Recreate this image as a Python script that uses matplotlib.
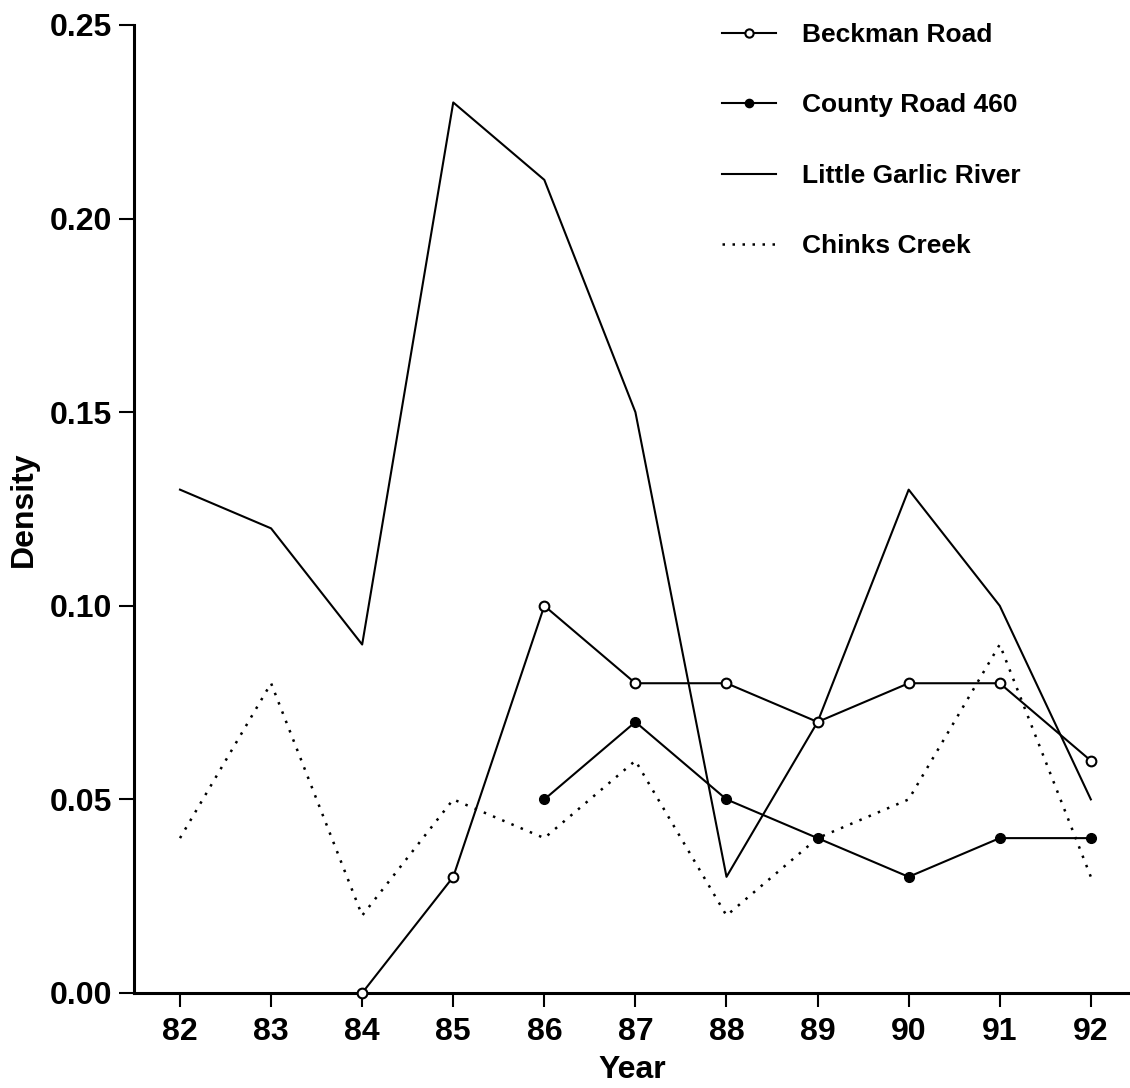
import matplotlib
matplotlib.use('Agg')
import matplotlib.pyplot as plt

years = [82, 83, 84, 85, 86, 87, 88, 89, 90, 91, 92]

beckman_years = [84, 85, 86, 87, 88, 89, 90, 91, 92]
beckman = [0.00, 0.03, 0.10, 0.08, 0.08, 0.07, 0.08, 0.08, 0.06]

county_years = [86, 87, 88, 89, 90, 91, 92]
county = [0.05, 0.07, 0.05, 0.04, 0.03, 0.04, 0.04]

garlic = [0.13, 0.12, 0.09, 0.23, 0.21, 0.15, 0.03, 0.07, 0.13, 0.10, 0.05]
chinks = [0.04, 0.08, 0.02, 0.05, 0.04, 0.06, 0.02, 0.04, 0.05, 0.09, 0.03]

yticks = [0.00, 0.05, 0.10, 0.15, 0.20, 0.25]

plt.rcParams['font.family'] = ['Liberation Sans', 'DejaVu Sans']
plt.rcParams['font.weight'] = 'bold'

fig = plt.figure(figsize=(11.3, 10.88), dpi=100)
# axes box: left spine at x=134px, bottom at y=993px, top (0.25) at y=25px
ax = fig.add_axes([134 / 1130, 95 / 1088, 996 / 1130, 968 / 1088])

lw = 1.5
ax.plot(beckman_years, beckman, color='black', lw=lw, marker='o', ms=7,
        mfc='white', mec='black', mew=1.5, label='Beckman Road', clip_on=False, zorder=4)
ax.plot(county_years, county, color='black', lw=lw, marker='o', ms=7,
        mfc='black', mec='black', label='County Road 460', zorder=4)
ax.plot(years, garlic, color='black', lw=lw, label='Little Garlic River', zorder=3)
ax.plot(years, chinks, color='black', lw=1.8, linestyle=(0, (1, 3)),
        label='Chinks Creek', zorder=3)

ax.set_xlim(81.495, 92.43)
ax.set_ylim(0, 0.25)
ax.set_xticks(years)
ax.set_xticklabels([str(y) for y in years])
ax.set_yticks(yticks)
ax.set_yticklabels([f"{v:.2f}" for v in yticks])

for s in ['top', 'right']:
    ax.spines[s].set_visible(False)
for s in ['left', 'bottom']:
    ax.spines[s].set_linewidth(2.2)

ax.tick_params(axis='x', direction='out', length=10, width=1.5, labelsize=23, pad=7)
ax.tick_params(axis='y', direction='out', length=10.5, width=1.5, labelsize=23, pad=5)
for lab in ax.get_xticklabels() + ax.get_yticklabels():
    lab.set_fontweight('bold')

ax.set_xlabel('Year', fontsize=23, fontweight='bold', labelpad=6)
ax.set_ylabel('Density', fontsize=23, fontweight='bold', labelpad=8)

ax.legend(loc='upper left', bbox_to_anchor=(722 / 1130, 1 - 23 / 1088),
          bbox_transform=fig.transFigure, frameon=False,
          labelspacing=1.76, handlelength=2.05, handletextpad=1.0, markerscale=0.85,
          borderpad=0, borderaxespad=0, prop={'weight': 'bold', 'size': 19})

plt.savefig('out.png', dpi=100)
plt.close()
